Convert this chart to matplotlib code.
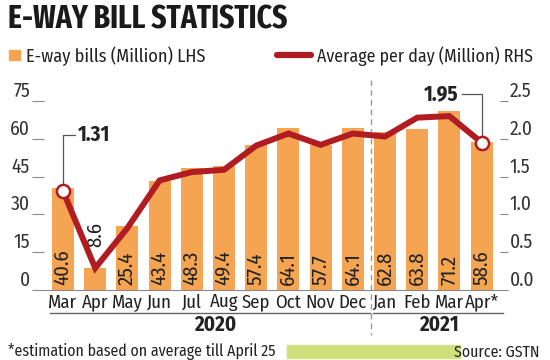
import matplotlib
matplotlib.use("Agg")
import matplotlib.pyplot as plt
from matplotlib.patches import Rectangle
from matplotlib.lines import Line2D

plt.rcParams['font.family'] = ['Fira Sans Condensed', 'Roboto Condensed', 'DejaVu Sans']

# data
months = ['Mar', 'Apr', 'May', 'Jun', 'Jul', 'Aug', 'Sep', 'Oct', 'Nov', 'Dec',
          'Jan', 'Feb', 'Mar', 'Apr*']
bills = [40.6, 8.6, 25.4, 43.4, 48.3, 49.4, 57.4, 64.1, 57.7, 64.1, 62.8, 63.8, 71.2, 58.6]
avg_per_day = [1.31, 0.29, 0.82, 1.45, 1.56, 1.59, 1.91, 2.07, 1.92, 2.07, 2.03, 2.28, 2.30, 1.95]
left_ticks = [0, 15, 30, 45, 60, 75]
right_ticks = [0.0, 0.5, 1.0, 1.5, 2.0, 2.5]

ORANGE = '#f5a552'
RED = '#b01c22'
GREEN = '#cfe07c'
TXT = '#222222'

W, H = 550, 360
fig = plt.figure(figsize=(5.5, 3.6), dpi=100)


def fx(px):
    return px / W


def fy(py):
    return 1 - py / H


# plot area: x 44..500 px, y 101..290 px
ax = fig.add_axes([fx(44), fy(290), fx(500) - fx(44), fy(101) - fy(290)])
ax2 = ax.twinx()

x = list(range(len(months)))
ax.bar(x, bills, width=0.68, color=ORANGE, zorder=1)
ax.set_xlim(-0.59, 13.57)
ax.set_ylim(0, 75)
ax2.set_ylim(0, 2.5)

for a in (ax, ax2):
    for s in ('top', 'left', 'right'):
        a.spines[s].set_visible(False)
ax2.spines['bottom'].set_visible(False)
ax.spines['bottom'].set_color('#888888')

ax.set_yticks(left_ticks)
ax.set_yticklabels([str(t) for t in left_ticks])
ax.tick_params(axis='y', length=9, width=0.8, color='#888888', pad=1,
               labelsize=14, labelcolor='#333333')
for lbl in ax.get_yticklabels():
    lbl.set_verticalalignment('bottom')

ax2.set_yticks(right_ticks)
ax2.set_yticklabels([f'{t:.1f}' for t in right_ticks])
ax2.tick_params(axis='y', length=6, width=0.8, color='#888888', pad=1,
                labelsize=14, labelcolor='#333333')
for lbl in ax2.get_yticklabels():
    lbl.set_verticalalignment('bottom')

ax.set_xticks(x)
ax.set_xticklabels(months)
ax.tick_params(axis='x', length=0, pad=2.5, labelsize=13.5, labelcolor=TXT)

# bar value labels
for i, v in enumerate(bills):
    ypos = 17 if v < 15 else 2
    ax.text(i, ypos, f'{v}', rotation=90, ha='center', va='bottom',
            fontsize=15, color=TXT, zorder=3)

# line on right axis
ax2.plot(x, avg_per_day, color=RED, lw=4.3, solid_joinstyle='miter', zorder=4)
ax2.plot([x[0], x[-1]], [avg_per_day[0], avg_per_day[-1]], 'o', ms=9.5,
         mfc='white', mec=RED, mew=1.8, zorder=6)

# callouts
ax2.plot([0, 0, 0.37], [avg_per_day[0], 2.05, 2.05], color='#555555', lw=0.9,
         clip_on=False, zorder=5)
ax2.text(0.47, 2.05, '1.31', ha='left', va='center', fontsize=15,
         fontweight='bold', color=TXT)
ax2.plot([13, 13, 12.39], [avg_per_day[-1], 2.59, 2.59], color='#555555', lw=0.9,
         clip_on=False, zorder=5)
ax2.text(12.27, 2.59, '1.95', ha='right', va='center', fontsize=15,
         fontweight='bold', color=TXT)

# year separator and labels
tr = ax.get_xaxis_transform()
ax.plot([9.57, 9.57], [1.11, -0.238], transform=tr, color='#999999', lw=1,
        ls=(0, (4, 3)), clip_on=False)
ax.plot([-0.4, 9.53], [-0.122, -0.122], transform=tr, color='#666666', lw=1, clip_on=False)
ax.plot([9.63, 13.66], [-0.122, -0.122], transform=tr, color='#666666', lw=1, clip_on=False)
ax.text(4.72, -0.185, '2020', transform=tr, ha='center', va='center',
        fontsize=15, fontweight='bold', color=TXT)
ax.text(11.68, -0.185, '2021', transform=tr, ha='center', va='center',
        fontsize=15, fontweight='bold', color=TXT)

# title and legend
fig.text(fx(8), fy(4), 'E-WAY BILL STATISTICS', ha='left', va='top',
         fontsize=23, fontweight='bold', color='#1a1a1a',
         family=['Fira Sans Extra Condensed', 'Fira Sans Condensed', 'DejaVu Sans'])
fig.patches.append(Rectangle((fx(9), fy(60)), fx(11), fy(50) - fy(60),
                             transform=fig.transFigure, color=ORANGE))
fig.text(fx(26), fy(56), 'E-way bills (Million) LHS', ha='left', va='center',
         fontsize=13.2, color=TXT)
fig.lines.append(Line2D([fx(277), fx(311)], [fy(55), fy(55)], transform=fig.transFigure,
                        color=RED, lw=4.5, solid_capstyle='round'))
fig.text(fx(317), fy(56), 'Average per day (Million) RHS', ha='left', va='center',
         fontsize=12.8, color=TXT)

# footer
fig.text(fx(8), fy(352), '*estimation based on average till April 25', ha='left',
         va='center', fontsize=11.4, color=TXT)
fig.patches.append(Rectangle((fx(287), fy(358)), fx(173), fy(345) - fy(358),
                             transform=fig.transFigure, color=GREEN))
fig.text(fx(540), fy(352), 'Source: GSTN', ha='right', va='center',
         fontsize=11.4, color=TXT)

fig.savefig('out.png', dpi=100)
